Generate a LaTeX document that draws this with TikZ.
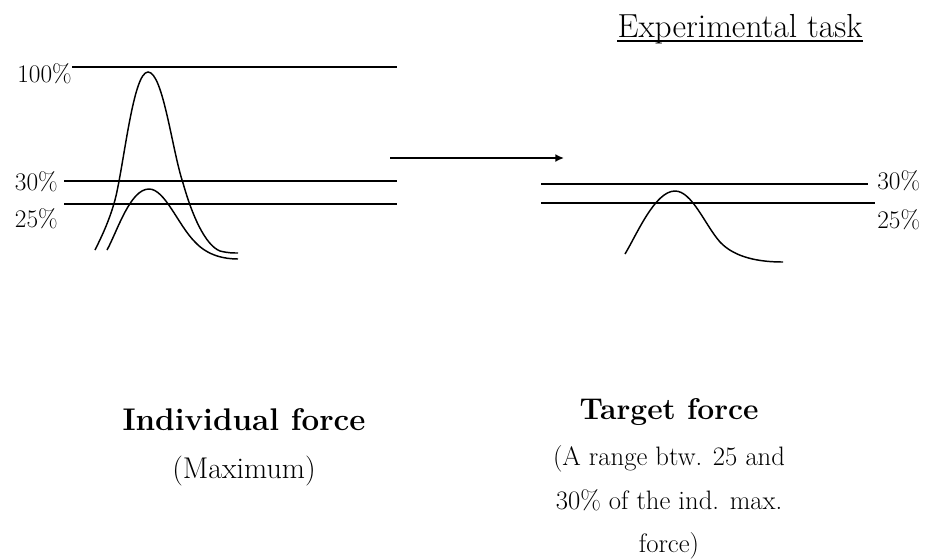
\documentclass[tikz,border=0pt]{standalone}
\usepackage{fontspec}
\usepackage{tikz}
\usetikzlibrary{arrows.meta, positioning}

\begin{document}
\begin{tikzpicture}[x=0.75pt, y=-0.75pt,
    pct/.style={inner sep=0pt, font=\fontsize{19}{22}\selectfont},
    level/.style={line width=1.1pt},
    force/.style={line width=1.1pt},
    head/.style={inner sep=0pt, anchor=base, font=\fontsize{23.5}{26}\selectfont\bfseries},
    sub/.style={inner sep=0pt, anchor=base, font=\fontsize{20}{24}\selectfont},
    arr/.style={line width=1.4pt, -{Latex[length=6.5pt, width=6pt]}}
]
\useasboundingbox (0,0) rectangle (927,558);

\node[inner sep=0pt, anchor=base, font=\fontsize{25}{28}\selectfont] (task) at (740,37) {Experimental task};
\draw[line width=0.9pt] ([yshift=-3pt]task.base west) -- ([yshift=-3pt]task.base east);

\node[pct, anchor=base east] (max) at (72,82) {100\%};
\node[pct, anchor=base east] (upl) at (58,190) {30\%};
\node[pct, anchor=base east] (lowl) at (58,227) {25\%};
\node[pct, anchor=base west] (upr) at (877,189) {30\%};
\node[pct, anchor=base west] (lowr) at (877,228) {25\%};

\coordinate (max0) at (72,67);   \coordinate (max1) at (397,67);
\coordinate (upl0) at (64,181);  \coordinate (upl1) at (397,181);
\coordinate (lowl0) at (64,204); \coordinate (lowl1) at (397,204);
\coordinate (upr0) at (541,184); \coordinate (upr1) at (868,184);
\coordinate (lowr0) at (541,203); \coordinate (lowr1) at (875,203);

\draw[level] (max0) -- (max1);
\draw[level] (upl0) -- (upl1);
\draw[level] (lowl0) -- (lowl1);
\draw[level] (upr0) -- (upr1);
\draw[level] (lowr0) -- (lowr1);

\draw[force] (95,250) .. controls (104,232) and (110,218) .. (115,200)
    .. controls (124,165) and (133,72) .. (148,72)
    .. controls (163,72) and (172,150) .. (183,183)
    .. controls (192,215) and (205,245) .. (220,251)
    .. controls (228,253) and (233,253) .. (238,253);
\draw[force] (107,250) .. controls (117,232) and (130,189) .. (149,189)
    .. controls (165,189) and (178,225) .. (195,242)
    .. controls (208,256) and (225,259) .. (238,259);
\draw[force] (625,254) .. controls (637,234) and (655,191) .. (675,191)
    .. controls (692,191) and (705,225) .. (720,242)
    .. controls (735,258) and (760,262) .. (783,262);

\coordinate (from) at (390,158);
\coordinate (to) at (564,158);
\draw[arr] (from) -- (to);

\node[head] (indiv) at (244,430) {Individual force};
\node[sub, font=\fontsize{22.5}{26}\selectfont] (indivmax) at (244,478) {(Maximum)};

\node[head, font=\fontsize{22.5}{26}\selectfont\bfseries] (target) at (669,419) {Target force};
\node[sub] (range1) at (669,465) {(A range btw. 25 and};
\node[sub] (range2) at (669,509) {30\% of the ind. max.};
\node[sub] (range3) at (669,552) {force)};

\end{tikzpicture}
\end{document}
